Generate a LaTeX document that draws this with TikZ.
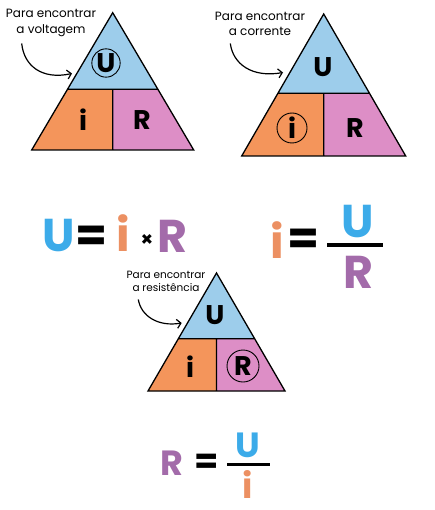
\documentclass[tikz,border=0pt]{standalone}
\usepackage{fontspec}
\setmainfont{Poppins}
\usetikzlibrary{calc,arrows.meta}
\definecolor{triblue}{HTML}{9DCDEB}
\definecolor{triorange}{HTML}{F4955B}
\definecolor{tripink}{HTML}{DD8EC6}
\definecolor{eqblue}{HTML}{3CABE9}
\definecolor{eqorange}{HTML}{EC9062}
\definecolor{eqpurple}{HTML}{A36BAA}
\newcommand\ohmtri[5]{% index, apex x, apex y, half width, base y
  \coordinate (A#1) at (#2,#3);
  \coordinate (BL#1) at ($(A#1)+(-#4,#5-#3)$);
  \coordinate (BR#1) at ($(A#1)+(#4,#5-#3)$);
  \coordinate (L#1) at ($(A#1)!0.558!(BL#1)$);
  \coordinate (R#1) at ($(A#1)!0.558!(BR#1)$);
  \coordinate (M#1) at (A#1 |- L#1);
  \coordinate (N#1) at (A#1 |- BL#1);
  \fill[triblue] (A#1)--(L#1)--(R#1)--cycle;
  \fill[triorange] (L#1)--(M#1)--(N#1)--(BL#1)--cycle;
  \fill[tripink] (M#1)--(R#1)--(BR#1)--(N#1)--cycle;
  \draw[triline] (A#1)--(BL#1)--(BR#1)--cycle (L#1)--(R#1) (M#1)--(N#1);
}
\begin{document}
\begin{tikzpicture}[x=1pt,y=-1pt,
  triline/.style={line width=1.3pt,line join=miter},
  trilet/.style={font=\fontsize{27}{27}\selectfont\bfseries,inner sep=0pt},
  ring/.style={circle,draw,line width=0.9pt,inner sep=0.5pt},
  label/.style={font=\fontsize{12}{15.5}\selectfont,align=center,inner sep=0pt},
  curvarrow/.style={line width=1.2pt,-{Straight Barb[length=4pt,width=9pt]}},
  bigeq/.style={font=\fontsize{46}{46}\selectfont\bfseries,inner sep=0pt,anchor=base},
  smalleq/.style={font=\fontsize{35}{35}\selectfont\bfseries,inner sep=0pt,anchor=base},
  fracbar/.style={line width=3.5pt}]
\useasboundingbox (0,0) rectangle (434,510);

% triangle 1
\ohmtri{1}{112.7}{12.7}{81}{150}
\node[trilet,ring,minimum size=25pt] (u1) at (106,63) {U};
\node[trilet] (i1) at (83,120) {i};
\node[trilet] (r1) at (142,120) {R};
\node[label] (t1) at (51,23) {Para encontrar\\a voltagem};
\coordinate (s1) at (21.7,43.5);
\coordinate (e1) at (72,73.5);
\draw[curvarrow] (s1) .. controls (24,66) and (42,80) .. (e1);

% triangle 2
\ohmtri{2}{323.7}{14}{82}{156}
\node[trilet] (u2) at (323,67) {U};
\node[trilet,ring,minimum size=30pt] (i2) at (292,128) {i};
\node[trilet] (r2) at (355,128) {R};
\node[label] (t2) at (260,24) {Para encontrar\\a corrente};
\coordinate (s2) at (230.3,43.5);
\coordinate (e2) at (283,72.5);
\draw[curvarrow] (s2) .. controls (233,64) and (252,78) .. (e2);

% triangle 3
\ohmtri{3}{216.5}{273}{68.5}{391}
\node[trilet] (u3) at (215,315) {U};
\node[trilet] (i3) at (190,367) {i};
\node[trilet,ring,minimum size=32pt] (r3) at (243,366) {R};
\node[label,font=\fontsize{10.5}{13}\selectfont] (t3) at (166,281.5) {Para encontrar\\a resistência};
\coordinate (s3) at (138.3,299.5);
\coordinate (e3) at (181.7,323);
\draw[curvarrow] (s3) .. controls (141,316) and (158,327) .. (e3);

% equation 1
\node[bigeq,text=eqblue] (eu1) at (59,251) {U};
\node[bigeq] (eq1) at (92,251) {=};
\node[bigeq,text=eqorange] (ei1) at (123,251) {i};
\node[font=\fontsize{20}{20}\selectfont\bfseries,inner sep=0pt] (ex1) at (147,240) {×};
\node[bigeq,text=eqpurple] (er1) at (172,252) {R};

% equation 2
\node[bigeq,text=eqorange] (ei2) at (277,258) {i};
\node[bigeq] (eq2) at (304,254) {=};
\coordinate (b2l) at (327,245);
\coordinate (b2r) at (383,245);
\draw[fracbar] (b2l) -- (b2r);
\node[bigeq,text=eqblue] (eu2) at (358,237) {U};
\node[bigeq,text=eqpurple] (er2) at (358,288) {R};

% equation 3
\node[smalleq,text=eqpurple] (er3) at (172,475) {R};
\node[smalleq] (eq3) at (207,473) {=};
\coordinate (b3l) at (227,464);
\coordinate (b3r) at (270,464);
\draw[fracbar,line width=3pt] (b3l) -- (b3r);
\node[smalleq,text=eqblue] (eu3) at (248,457) {U};
\node[smalleq,text=eqorange] (ei3) at (248,498) {i};
\end{tikzpicture}
\end{document}
